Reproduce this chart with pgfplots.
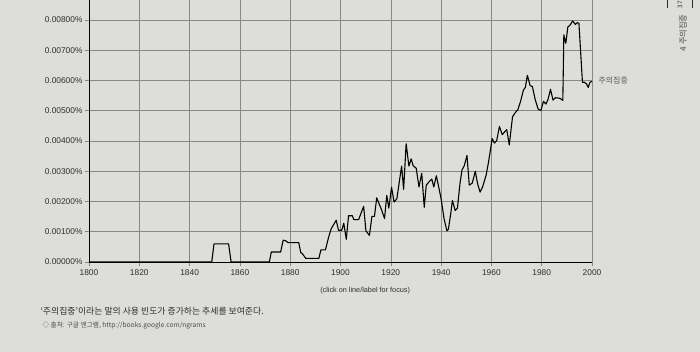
\documentclass[border=0pt]{standalone}
\usepackage{pgfplots}
\pgfplotsset{compat=1.18}
\usepackage{fontspec}
\setmainfont{Liberation Sans}
\newfontfamily\kr{Noto Sans CJK KR}
\definecolor{pagebg}{RGB}{221,221,217}
\definecolor{gridc}{RGB}{135,135,132}
\definecolor{txt}{RGB}{45,45,45}
\begin{document}
\begin{tikzpicture}
\useasboundingbox (0,0) rectangle (700bp,352bp);
\fill[pagebg] (0,0) rectangle (700bp,352bp);
\begin{axis}[
  at={(89bp,90bp)}, anchor=south west,
  scale only axis, width=503bp, height=262bp,
  xmin=1800, xmax=2000, ymin=0, ymax=0.00866,
  axis lines*=left,
  axis line style={black, line width=0.9pt},
  xtick={1800,1820,...,2000},
  ytick={0,0.001,...,0.008},
  yticklabels={0.00000\%,0.00100\%,0.00200\%,0.00300\%,0.00400\%,0.00500\%,0.00600\%,0.00700\%,0.00800\%},
  xticklabel style={/pgf/number format/1000 sep={}},
  /pgf/number format/assume math mode=true,
  scaled y ticks=false,
  grid=major,
  major grid style={gridc, line width=0.55pt},
  tick align=outside, major tick length=4bp,
  tick style={gridc, line width=0.55pt},
  tick label style={font=\fontsize{8.4}{10}\selectfont, text=txt},
  yticklabel style={xshift=1bp},
  clip=false,
]
\addplot[black, line width=1.1pt, line join=round] coordinates {
(1800,0) (1848.8,0) (1849.7,0.0006) (1855.5,0.0006) (1856.5,0) (1871.7,0)
(1872.5,0.00033) (1876.2,0.00033) (1877.2,0.00072) (1878.2,0.0007) (1879.2,0.00064)
(1883.4,0.00064) (1884.2,0.00031) (1884.8,0.00028) (1886.2,0.00012) (1891.4,0.00012)
(1892.2,0.0004) (1894,0.0004) (1895.2,0.0008) (1896.3,0.0011) (1898.3,0.00138)
(1899.2,0.00105) (1900.5,0.00105) (1901.3,0.00128) (1902.3,0.00075) (1903.2,0.00153)
(1904.7,0.00153) (1905.3,0.0014) (1907.2,0.0014) (1909.2,0.00184) (1910.1,0.00103)
(1911.5,0.00088) (1912.5,0.00151) (1913.5,0.00151) (1914.4,0.00212) (1916.3,0.00173)
(1917.5,0.00144) (1918.4,0.0022) (1919.2,0.00178) (1920.3,0.00247) (1921.3,0.00198)
(1922.4,0.00209) (1924.3,0.00317) (1925.1,0.0024) (1926.1,0.00391) (1927.2,0.00317)
(1928.1,0.00341) (1928.9,0.00318) (1930.1,0.0031) (1931.2,0.00248) (1932.3,0.00293)
(1933.3,0.00181) (1934.1,0.00254) (1935.2,0.00265) (1936.3,0.00274) (1937.1,0.00248)
(1938.1,0.00285) (1939.2,0.00242) (1940,0.00209) (1941.2,0.00142) (1942.3,0.00103)
(1942.9,0.00108) (1943.9,0.00164) (1944.5,0.00203) (1945.6,0.0017) (1946.5,0.00178)
(1947.5,0.00259) (1948.3,0.00304) (1949.2,0.00318) (1950.3,0.00352) (1951.2,0.00254)
(1952.4,0.00261) (1953.6,0.003) (1954.5,0.00259) (1955.5,0.00231) (1956.5,0.00248)
(1957.9,0.00287) (1958.9,0.00332) (1960.3,0.00408) (1961.2,0.00393) (1962.1,0.00401)
(1963.2,0.00448) (1964.3,0.00421) (1966.1,0.00438) (1967.1,0.00387) (1968.4,0.0048)
(1969.5,0.00494) (1970.5,0.00503) (1971.6,0.00531) (1972.7,0.00568) (1973.5,0.00577)
(1974.3,0.00617) (1975.4,0.00583) (1976.3,0.0058) (1977.4,0.00537) (1978.6,0.00505)
(1979.7,0.00501) (1980.7,0.00531) (1981.7,0.00522) (1982.5,0.00537) (1983.5,0.00571)
(1984.5,0.00535) (1985.5,0.00543) (1987.3,0.00541) (1988.4,0.00534) (1988.8,0.00751)
(1989.6,0.00723) (1990.4,0.00777) (1991.3,0.00783) (1992.3,0.00797) (1993.4,0.00785)
(1994.1,0.00791) (1994.8,0.00789) (1996.2,0.00594) (1997,0.00594) (1997.8,0.00589)
(1998.5,0.00577) (1999.2,0.00594) (2000,0.00597)
};
\node[anchor=west, xshift=3bp, text=txt!80, font=\kr\fontsize{8}{9}\selectfont] at (axis cs:2000,0.006) {주의집중};
\node[text=txt, font=\fontsize{7.3}{8}\selectfont] at ([yshift=-29bp]rel axis cs:0.549,0) {(click on line/label for focus)};
\end{axis}
\node[anchor=west, text=txt, font=\kr\fontsize{8.9}{10}\selectfont] at (37bp,41bp) {‘주의집중’이라는 말의 사용 빈도가 증가하는 추세를 보여준다.};
\node[anchor=west, text=txt!85, font=\kr\fontsize{6.7}{8}\selectfont] at (39bp,27bp) {◇ 출처: 구글 엔그램, http://books.google.com/ngrams};
\draw[txt, line width=0.5pt] (667bp,352bp) -- (667bp,344bp);
\draw[txt, line width=0.5pt] (692bp,352bp) -- (692bp,344bp);
\node[rotate=90, text=txt, font=\kr\fontsize{6.5}{7}\selectfont] at (680bp,347bp) {37};
\node[rotate=90, anchor=center, text=txt!85, font=\kr\fontsize{8.3}{9}\selectfont] at (683bp,319bp) {4 주의집중};
\end{tikzpicture}
\end{document}
